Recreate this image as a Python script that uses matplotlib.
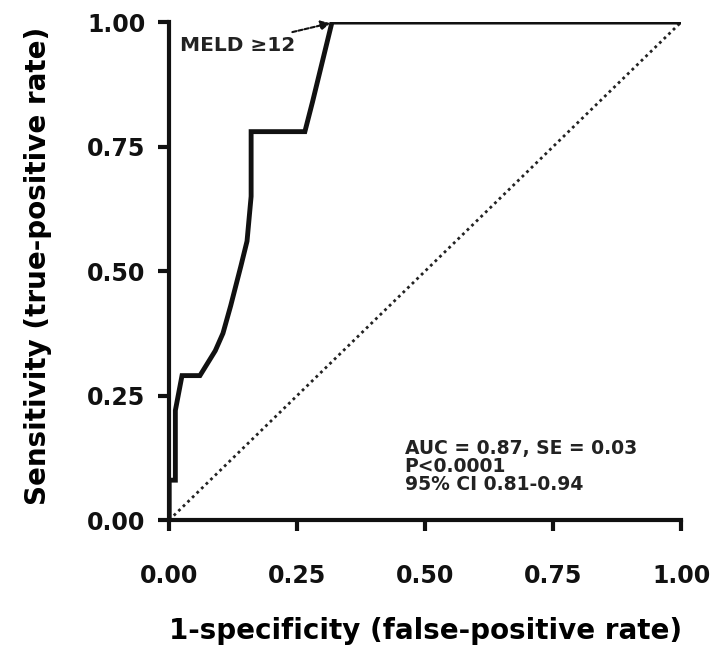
import matplotlib.pyplot as plt

plt.rcParams['font.family'] = ['DejaVu Sans']
plt.rcParams['font.weight'] = 'bold'

# ROC curve
fpr = [0.0, 0.0, 0.012, 0.012, 0.025, 0.06, 0.09, 0.105, 0.12, 0.14, 0.152, 0.16, 0.16, 0.265, 0.28, 0.318, 1.0]
tpr = [0.0, 0.08, 0.08, 0.22, 0.29, 0.29, 0.34, 0.375, 0.43, 0.51, 0.56, 0.65, 0.78, 0.78, 0.84, 1.0, 1.0]
ticks = [0.0, 0.25, 0.5, 0.75, 1.0]
tick_labels = ['0.00', '0.25', '0.50', '0.75', '1.00']
stats = 'AUC = 0.87, SE = 0.03\nP<0.0001\n95% CI 0.81-0.94'

fig = plt.figure(figsize=(7.17, 6.5), dpi=100)
ax = fig.add_axes([0.236, 0.2, 0.714, 0.766])

ax.plot([0, 1], [0, 1], color='#222222', lw=2, ls=(0, (1, 1.3)))
ax.plot(fpr, tpr, color='#111111', lw=3.5, solid_joinstyle='miter')

ax.set_xlim(0, 1)
ax.set_ylim(0, 1)
ax.set_xticks(ticks)
ax.set_xticklabels(tick_labels)
ax.set_yticks(ticks)
ax.set_yticklabels(tick_labels)
for s in ['top', 'right']:
    ax.spines[s].set_visible(False)
for s in ['left', 'bottom']:
    ax.spines[s].set_linewidth(3)
    ax.spines[s].set_color('#111111')
ax.tick_params(width=3, length=8, labelsize=17, colors='#111111')
ax.tick_params(axis='y', pad=9)
ax.tick_params(axis='x', pad=24)

ax.set_xlabel('1-specificity (false-positive rate)', fontsize=20, fontweight='bold')
ax.set_ylabel('Sensitivity (true-positive rate)', fontsize=20, fontweight='bold')
ax.xaxis.set_label_coords(0.5, -0.195)
ax.yaxis.set_label_coords(-0.228, 0.51)

ax.annotate('MELD \u226512', xy=(0.315, 0.998), xytext=(0.021, 0.954),
            fontsize=14.5, fontweight='bold', va='center', color='#222222',
            arrowprops=dict(arrowstyle='-|>', mutation_scale=14, color='#111111',
                            lw=1.5, ls=(0, (2, 1)), shrinkA=2, shrinkB=0))

ax.text(0.46, 0.163, stats, fontsize=13.5, fontweight='bold', va='top', linespacing=0.95, color='#222222')

plt.savefig('out.png', dpi=100)
